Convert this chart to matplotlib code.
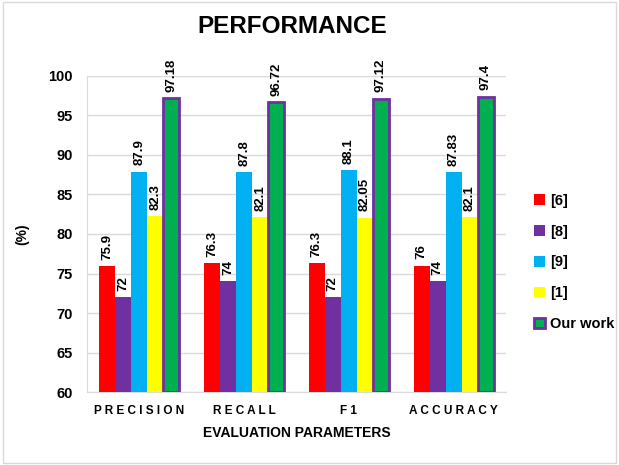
import numpy as np
import matplotlib.pyplot as plt
from matplotlib.patches import Rectangle

params = ['PRECISION', 'RECALL', 'F1', 'ACCURACY']
series = ['[6]', '[8]', '[9]', '[1]', 'Our work']
ref6 = [75.9, 76.3, 76.3, 76]
ref8 = [72, 74, 72, 74]
ref9 = [87.9, 87.8, 88.1, 87.83]
ref1 = [82.3, 82.1, 82.05, 82.1]
ours = [97.18, 96.72, 97.12, 97.4]
labels6 = ['75.9', '76.3', '76.3', '76']
labels8 = ['72', '74', '72', '74']
labels9 = ['87.9', '87.8', '88.1', '87.83']
labels1 = ['82.3', '82.1', '82.05', '82.1']
labels_ours = ['97.18', '96.72', '97.12', '97.4']

colors = ['#FF0000', '#7030A0', '#00B0F0', '#FFFF00', '#00B050']
plt.rcParams['font.family'] = ['Liberation Sans', 'DejaVu Sans']

fig = plt.figure(figsize=(6.19, 4.65), dpi=100)
ax = fig.add_axes([87 / 619, 73 / 465, 419 / 619, 316 / 465])

x = np.arange(len(params))
w = 0.153
data = [ref6, ref8, ref9, ref1, ours]
labs = [labels6, labels8, labels9, labels1, labels_ours]
for i, (vals, lb) in enumerate(zip(data, labs)):
    pos = x + (i - 2) * w
    if i == 4:
        ax.bar(pos, np.array(vals) - 60, w, bottom=60, color=colors[i],
               edgecolor='#7030A0', linewidth=2, label=series[i], zorder=3)
    else:
        ax.bar(pos, np.array(vals) - 60, w, bottom=60, color=colors[i],
               label=series[i], zorder=3)
    for p, v, t in zip(pos, vals, lb):
        ax.text(p, v + 0.8, t, rotation=90, ha='center', va='bottom',
                fontsize=9.5, fontweight='bold')

ax.set_ylim(60, 100)
ax.set_xlim(-0.5, 3.5)
ax.set_yticks(range(60, 101, 5))
ax.yaxis.grid(True, color='#D9D9D9', linewidth=1)
ax.set_axisbelow(True)
for s in ['top', 'right']:
    ax.spines[s].set_visible(False)
ax.spines['bottom'].set_color('#D9D9D9')
ax.spines['left'].set_color('#D9D9D9')
ax.tick_params(axis='both', length=0)
ax.set_xticks(x)
ax.set_xticklabels([' '.join(p) for p in params], fontsize=8.5, fontweight='bold')
ax.tick_params(axis='x', pad=9)
ax.tick_params(axis='y', pad=10)
for t in ax.get_yticklabels():
    t.set_fontweight('bold')
    t.set_fontsize(10.5)
ax.set_ylabel('(%)', fontsize=10, fontweight='bold', labelpad=14)
ax.set_xlabel('EVALUATION PARAMETERS', fontsize=10, fontweight='bold', labelpad=7)

fig.text(0.472, 0.942, 'PERFORMANCE', ha='center', va='center', fontsize=17.5,
         fontweight='bold')

ax.legend(loc='center left', bbox_to_anchor=(1.035, 0.41), frameon=False,
          handlelength=0.75, handleheight=0.75, labelspacing=1.15,
          prop={'weight': 'bold', 'size': 10.5}, handletextpad=0.35)

fig.patches.append(Rectangle((0.005, 0.005), 0.99, 0.99, transform=fig.transFigure,
                             fill=False, edgecolor='#D9D9D9', linewidth=1))

fig.savefig('out.png', dpi=100)
